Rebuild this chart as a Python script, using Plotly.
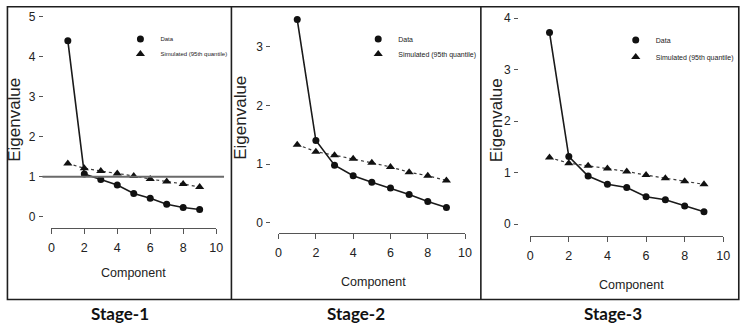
import plotly.graph_objects as go

# Parallel analysis scree plots for three stages
components = [1, 2, 3, 4, 5, 6, 7, 8, 9]

stage1_data = [4.40, 1.07, 0.93, 0.79, 0.58, 0.46, 0.31, 0.23, 0.18]
stage1_sim = [1.33, 1.21, 1.14, 1.08, 1.02, 0.94, 0.88, 0.82, 0.74]

stage2_data = [3.46, 1.40, 0.98, 0.80, 0.69, 0.59, 0.48, 0.36, 0.26]
stage2_sim = [1.33, 1.21, 1.15, 1.09, 1.02, 0.95, 0.86, 0.80, 0.72]

stage3_data = [3.72, 1.31, 0.93, 0.77, 0.71, 0.53, 0.47, 0.35, 0.24]
stage3_sim = [1.29, 1.18, 1.13, 1.08, 1.02, 0.95, 0.89, 0.83, 0.77]

stage_titles = ["Stage-1", "Stage-2", "Stage-3"]
series_names = ["Data", "Simulated (95th quantile)"]
x_ticks = [0, 2, 4, 6, 8, 10]
y_ticks = [[0, 1, 2, 3, 4, 5], [0, 1, 2, 3], [0, 1, 2, 3, 4]]
kaiser_level = 1

W, H = 752, 327
SANS = "Liberation Sans, Arial, sans-serif"


def px(x):
    return x / W


def py(y):
    return 1 - y / H


# pixel geometry of each panel: x-axis extent, y zero / scale, axis line, y-axis position
panels = [
    dict(x0=49, x1=216, zero=216.7, scale=40.0, line=228.0, ypos=40.5,
         ylab=(11, 120), xlab=(132, 273), leg=(119, 39, 54), legfont=6.0,
         title=(119, 313)),
    dict(x0=279.3, x1=468.3, zero=222.7, scale=58.7, line=233.3, ypos=271.0,
         ylab=(240, 118), xlab=(375, 282), leg=(360, 39, 54), legfont=7.0,
         title=(358, 313)),
    dict(x0=534.3, x1=730, zero=224.0, scale=51.5, line=235.7, ypos=522.0,
         ylab=(500, 120), xlab=(637, 285), leg=(621, 40, 57), legfont=7.0,
         title=(618, 313)),
]
series = [(stage1_data, stage1_sim), (stage2_data, stage2_sim), (stage3_data, stage3_sim)]

fig = go.Figure()
top_px = 10
annotations = []
shapes = []
layout_axes = {}
legend_no = 0

for i, (p, (d, s)) in enumerate(zip(panels, series), start=1):
    xa = "x" if i == 1 else f"x{i}"
    ya = "y" if i == 1 else f"y{i}"

    # dotted simulated line and solid data line
    fig.add_trace(go.Scatter(x=components, y=s, mode="lines", xaxis=xa, yaxis=ya,
                             line=dict(color="#3a3a3a", width=1.2, dash="dot"),
                             showlegend=False, hoverinfo="skip"))
    fig.add_trace(go.Scatter(x=components, y=d, mode="lines", xaxis=xa, yaxis=ya,
                             line=dict(color="#1a1a1a", width=1.6),
                             showlegend=False, hoverinfo="skip"))

    # markers, each series with its own legend entry box
    for k, (vals, sym, size) in enumerate([(d, "circle", 7), (s, "triangle-up", 8)]):
        legend_no += 1
        leg = "legend" if legend_no == 1 else f"legend{legend_no}"
        fig.add_trace(go.Scatter(x=components, y=vals, mode="markers", xaxis=xa, yaxis=ya,
                                 name=series_names[k], legend=leg,
                                 marker=dict(symbol=sym, size=size, color="#111")))
        layout_axes[leg] = dict(
            x=px(p["leg"][0]), y=py(p["leg"][1 + k]), xanchor="left", yanchor="middle",
            bgcolor="rgba(0,0,0,0)", font=dict(family=SANS, size=p["legfont"], color="#222"),
            itemclick=False, itemdoubleclick=False, borderwidth=0,
        )

    ymin = (p["zero"] - p["line"]) / p["scale"]
    ymax = (p["zero"] - top_px) / p["scale"]
    xkey = "xaxis" if i == 1 else f"xaxis{i}"
    ykey = "yaxis" if i == 1 else f"yaxis{i}"
    layout_axes[xkey] = dict(
        domain=[px(p["x0"]), px(p["x1"])], range=[0, 10], anchor=ya,
        tickvals=x_ticks, showline=True, linecolor="#555", linewidth=1,
        ticks="outside", ticklen=5, tickcolor="#555", showgrid=False, zeroline=False,
        ticklabelstandoff=3,
        tickfont=dict(family=SANS, size=12.5, color="#222"),
    )
    layout_axes[ykey] = dict(
        domain=[py(p["line"]), py(top_px)], range=[ymin, ymax], anchor="free",
        position=px(p["ypos"]), tickvals=y_ticks[i - 1], showline=False,
        ticks="outside", ticklen=4, tickcolor="#555", showgrid=False, zeroline=False,
        ticklabelstandoff=1,
        tickfont=dict(family=SANS, size=12, color="#222"),
    )

    annotations.append(dict(x=px(p["ylab"][0]), y=py(p["ylab"][1]), xref="paper", yref="paper",
                            xanchor="center", yanchor="middle",
                            text="Eigenvalue", textangle=-90, showarrow=False,
                            font=dict(family=SANS, size=17, color="#222")))
    annotations.append(dict(x=px(p["xlab"][0]), y=py(p["xlab"][1]), xref="paper", yref="paper",
                            xanchor="center", yanchor="middle",
                            text="Component", showarrow=False,
                            font=dict(family=SANS, size=12.5, color="#222")))
    annotations.append(dict(x=px(p["title"][0]), y=py(p["title"][1]), xref="paper", yref="paper",
                            xanchor="center", yanchor="middle",
                            text=f"<b>{stage_titles[i - 1]}</b>", showarrow=False,
                            font=dict(family="Lato, Liberation Sans, sans-serif", size=17, color="#111")))

# Kaiser criterion line on the first panel
shapes.append(dict(type="line", xref="x domain", yref="y", x0=-0.054, x1=1.048,
                   y0=kaiser_level, y1=kaiser_level, line=dict(color="#6a6a6a", width=2)))

# panel frames
frame = dict(color="#1e1e1e", width=1.6)
shapes.append(dict(type="rect", xref="paper", yref="paper", x0=px(4.5), x1=px(745.7),
                   y0=py(299.5), y1=py(6.8), line=frame))
for xsep in (231.5, 484.3):
    shapes.append(dict(type="line", xref="paper", yref="paper", x0=px(xsep), x1=px(xsep),
                       y0=py(299.5), y1=py(6.8), line=frame))

fig.update_layout(
    width=W, height=H, margin=dict(l=0, r=0, t=0, b=0),
    paper_bgcolor="white", plot_bgcolor="white",
    annotations=annotations, shapes=shapes, **layout_axes,
)

fig.write_html("out.html")
